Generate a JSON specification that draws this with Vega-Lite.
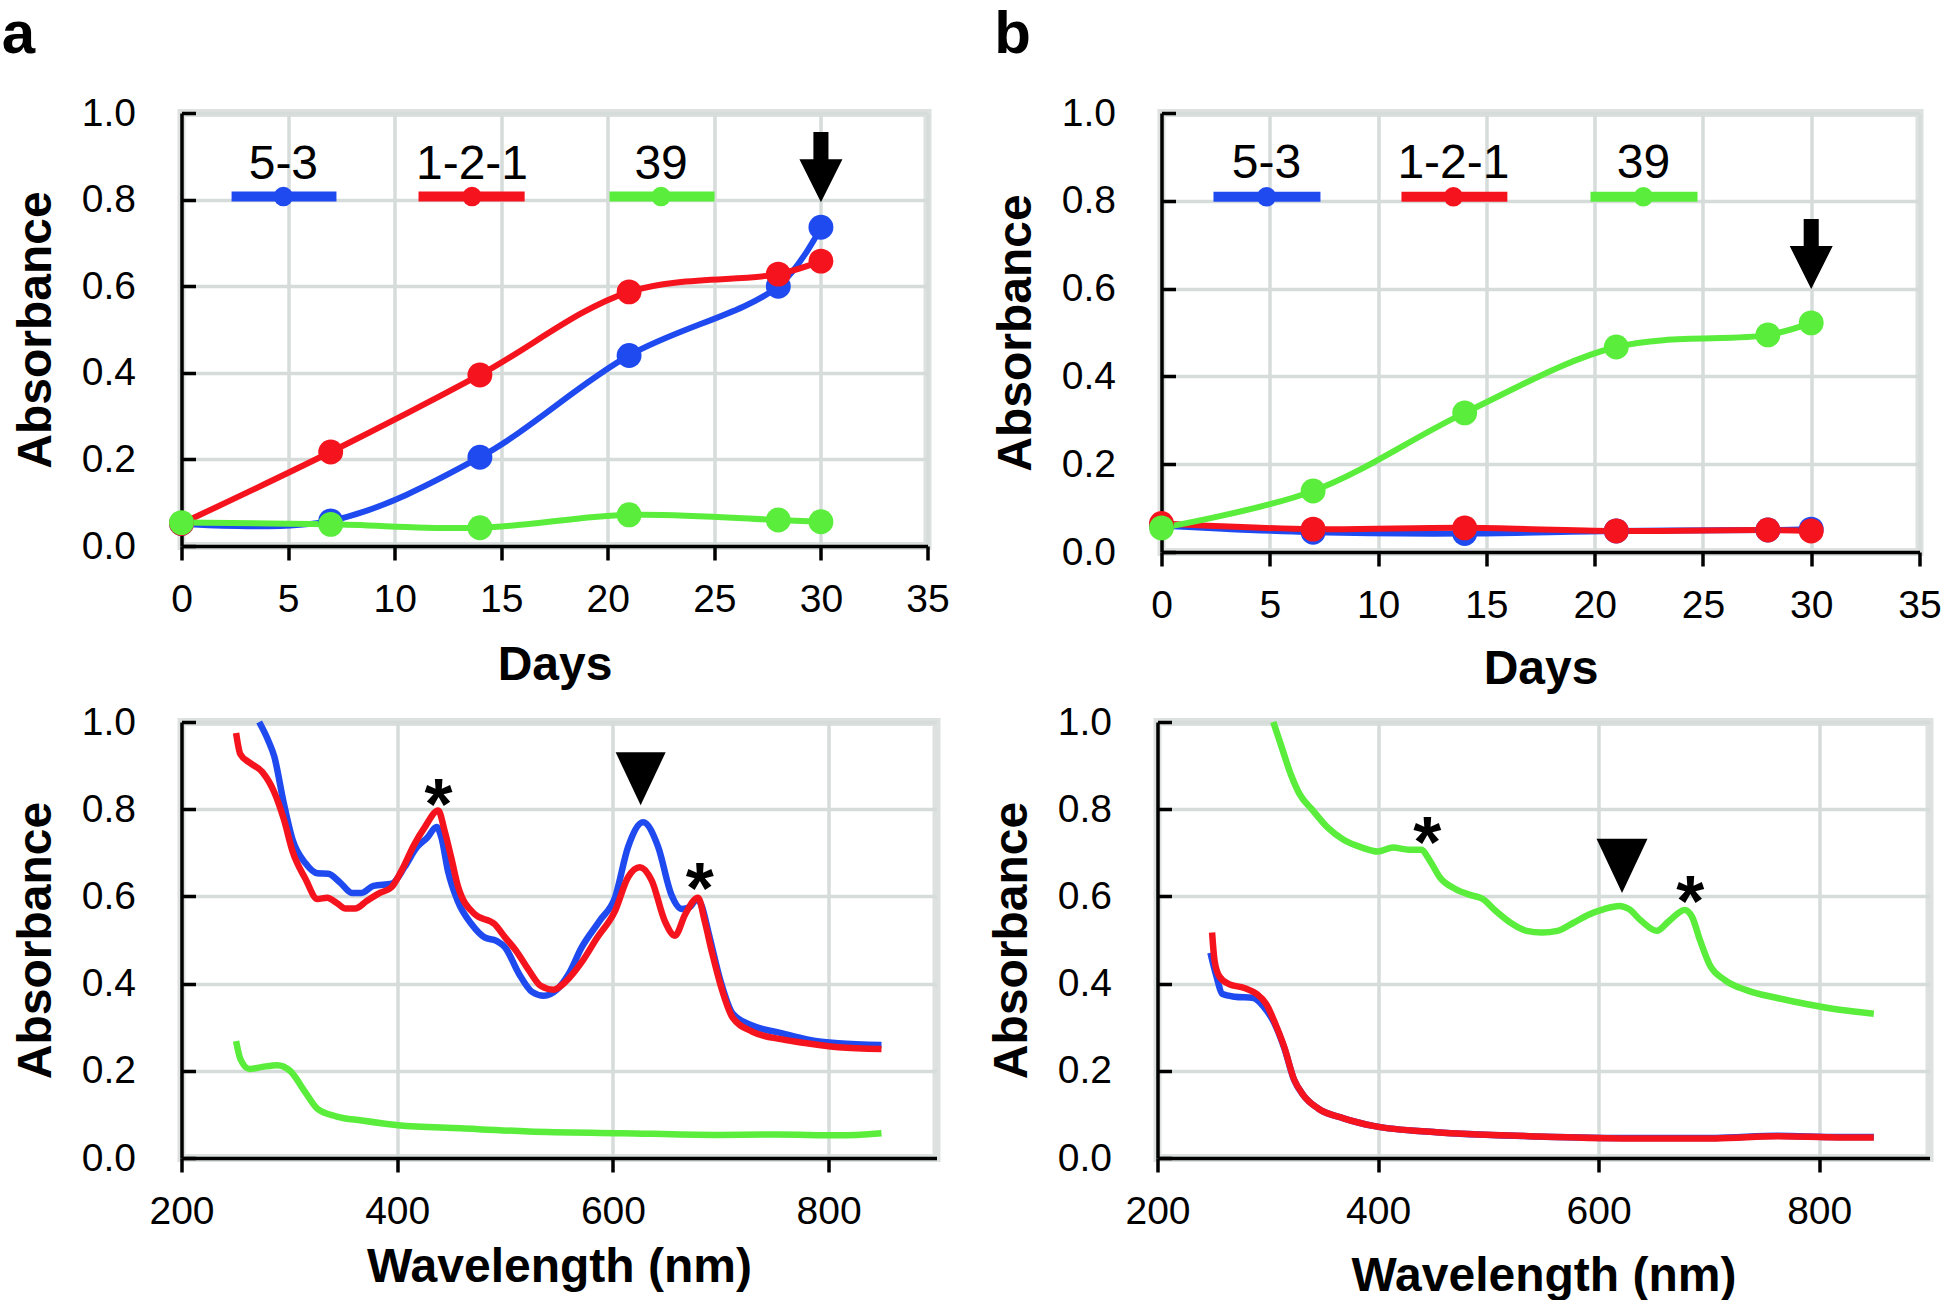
{
  "$schema": "https://vega.github.io/schema/vega-lite/v6.json",
  "background": "white",
  "padding": {"left": -2.5, "top": 0, "right": 0, "bottom": 0},
  "spacing": 2,
  "config": {
    "font": "Liberation Sans",
    "view": {"stroke": "#dde2e0", "strokeWidth": 8},
    "axis": {
      "labelFont": "Liberation Sans", "labelFontSize": 39, "labelColor": "black",
      "titleFont": "Liberation Sans", "titleFontSize": 48, "titleFontWeight": "bold", "titleColor": "black",
      "domainColor": "black", "domainWidth": 3.5, "tickColor": "black", "tickWidth": 3.5,
      "gridColor": "#d6dcda", "gridWidth": 3.5, "gridOpacity": 1, "labelFlush": false, "labelOverlap": false
    },
    "axisX": {"tickSize": 14, "labelPadding": 20, "titlePadding": 12},
    "axisY": {"tickSize": -14, "labelPadding": 60, "titlePadding": 21},
    "title": {"font": "Liberation Sans", "fontSize": 60, "fontWeight": "bold", "anchor": "start", "frame": "bounds", "color": "black", "offset": 28.5}
  },
  "datasets": {
    "growthA": [
      {"strain": "5-3", "day": 0, "abs": 0.052}, {"strain": "5-3", "day": 7, "abs": 0.058}, {"strain": "5-3", "day": 14, "abs": 0.205},
      {"strain": "5-3", "day": 21, "abs": 0.44}, {"strain": "5-3", "day": 28, "abs": 0.60}, {"strain": "5-3", "day": 30, "abs": 0.736},
      {"strain": "1-2-1", "day": 0, "abs": 0.052}, {"strain": "1-2-1", "day": 7, "abs": 0.217}, {"strain": "1-2-1", "day": 14, "abs": 0.395},
      {"strain": "1-2-1", "day": 21, "abs": 0.587}, {"strain": "1-2-1", "day": 28, "abs": 0.628}, {"strain": "1-2-1", "day": 30, "abs": 0.658},
      {"strain": "39", "day": 0, "abs": 0.054}, {"strain": "39", "day": 7, "abs": 0.05}, {"strain": "39", "day": 14, "abs": 0.042},
      {"strain": "39", "day": 21, "abs": 0.072}, {"strain": "39", "day": 28, "abs": 0.06}, {"strain": "39", "day": 30, "abs": 0.056}
    ],
    "growthB": [
      {"strain": "5-3", "day": 0, "abs": 0.06}, {"strain": "5-3", "day": 7, "abs": 0.045}, {"strain": "5-3", "day": 14, "abs": 0.042},
      {"strain": "5-3", "day": 21, "abs": 0.048}, {"strain": "5-3", "day": 28, "abs": 0.05}, {"strain": "5-3", "day": 30, "abs": 0.052},
      {"strain": "1-2-1", "day": 0, "abs": 0.065}, {"strain": "1-2-1", "day": 7, "abs": 0.052}, {"strain": "1-2-1", "day": 14, "abs": 0.055},
      {"strain": "1-2-1", "day": 21, "abs": 0.048}, {"strain": "1-2-1", "day": 28, "abs": 0.05}, {"strain": "1-2-1", "day": 30, "abs": 0.048},
      {"strain": "39", "day": 0, "abs": 0.055}, {"strain": "39", "day": 7, "abs": 0.139}, {"strain": "39", "day": 14, "abs": 0.317},
      {"strain": "39", "day": 21, "abs": 0.467}, {"strain": "39", "day": 28, "abs": 0.4945}, {"strain": "39", "day": 30, "abs": 0.522}
    ],
    "legendA": [
      {"strain": "5-3", "day": 2.35, "day2": 7.27, "dm": 4.78, "abs": 0.807, "ty": 0.848},
      {"strain": "1-2-1", "day": 11.12, "day2": 16.1, "dm": 13.63, "abs": 0.807, "ty": 0.848},
      {"strain": "39", "day": 20.08, "day2": 25.01, "dm": 22.5, "abs": 0.807, "ty": 0.848}
    ],
    "legendB": [
      {"strain": "5-3", "day": 2.4, "day2": 7.34, "dm": 4.85, "abs": 0.809, "ty": 0.852},
      {"strain": "1-2-1", "day": 11.08, "day2": 15.97, "dm": 13.48, "abs": 0.809, "ty": 0.852},
      {"strain": "39", "day": 19.81, "day2": 24.75, "dm": 22.25, "abs": 0.809, "ty": 0.852}
    ],
    "arrowA": [{"day": 30, "abs": 0.794}],
    "arrowB": [{"day": 30, "abs": 0.599}],
    "specC": [
      {"strain": "5-3", "nm": 272, "abs": 1.0}, {"strain": "5-3", "nm": 280, "abs": 0.96}, {"strain": "5-3", "nm": 286, "abs": 0.921},
      {"strain": "5-3", "nm": 295, "abs": 0.812}, {"strain": "5-3", "nm": 303, "abs": 0.73}, {"strain": "5-3", "nm": 315, "abs": 0.676},
      {"strain": "5-3", "nm": 326, "abs": 0.653}, {"strain": "5-3", "nm": 336, "abs": 0.652}, {"strain": "5-3", "nm": 347, "abs": 0.632},
      {"strain": "5-3", "nm": 358, "abs": 0.608}, {"strain": "5-3", "nm": 367, "abs": 0.608}, {"strain": "5-3", "nm": 378, "abs": 0.624},
      {"strain": "5-3", "nm": 395, "abs": 0.629}, {"strain": "5-3", "nm": 407, "abs": 0.668}, {"strain": "5-3", "nm": 418, "abs": 0.712},
      {"strain": "5-3", "nm": 428, "abs": 0.735}, {"strain": "5-3", "nm": 436.5, "abs": 0.759}, {"strain": "5-3", "nm": 441, "abs": 0.735},
      {"strain": "5-3", "nm": 447, "abs": 0.659}, {"strain": "5-3", "nm": 456, "abs": 0.59}, {"strain": "5-3", "nm": 469, "abs": 0.536},
      {"strain": "5-3", "nm": 481, "abs": 0.506}, {"strain": "5-3", "nm": 492, "abs": 0.498}, {"strain": "5-3", "nm": 500, "abs": 0.483},
      {"strain": "5-3", "nm": 513, "abs": 0.422}, {"strain": "5-3", "nm": 525, "abs": 0.381}, {"strain": "5-3", "nm": 536, "abs": 0.372},
      {"strain": "5-3", "nm": 548, "abs": 0.386}, {"strain": "5-3", "nm": 559, "abs": 0.422}, {"strain": "5-3", "nm": 571, "abs": 0.483},
      {"strain": "5-3", "nm": 588, "abs": 0.545}, {"strain": "5-3", "nm": 602, "abs": 0.598}, {"strain": "5-3", "nm": 614, "abs": 0.713},
      {"strain": "5-3", "nm": 628, "abs": 0.77}, {"strain": "5-3", "nm": 642, "abs": 0.713}, {"strain": "5-3", "nm": 654, "abs": 0.605},
      {"strain": "5-3", "nm": 664, "abs": 0.571}, {"strain": "5-3", "nm": 671, "abs": 0.575}, {"strain": "5-3", "nm": 678, "abs": 0.594},
      {"strain": "5-3", "nm": 682, "abs": 0.58}, {"strain": "5-3", "nm": 689, "abs": 0.513}, {"strain": "5-3", "nm": 700, "abs": 0.404},
      {"strain": "5-3", "nm": 711, "abs": 0.331}, {"strain": "5-3", "nm": 729, "abs": 0.304}, {"strain": "5-3", "nm": 757, "abs": 0.286},
      {"strain": "5-3", "nm": 780, "abs": 0.272}, {"strain": "5-3", "nm": 809, "abs": 0.263}, {"strain": "5-3", "nm": 849, "abs": 0.259},
      {"strain": "1-2-1", "nm": 250.6, "abs": 0.975}, {"strain": "1-2-1", "nm": 254.6, "abs": 0.926}, {"strain": "1-2-1", "nm": 263, "abs": 0.907},
      {"strain": "1-2-1", "nm": 275, "abs": 0.885}, {"strain": "1-2-1", "nm": 286, "abs": 0.839}, {"strain": "1-2-1", "nm": 295, "abs": 0.776},
      {"strain": "1-2-1", "nm": 303, "abs": 0.703}, {"strain": "1-2-1", "nm": 315, "abs": 0.64}, {"strain": "1-2-1", "nm": 326, "abs": 0.594},
      {"strain": "1-2-1", "nm": 335, "abs": 0.597}, {"strain": "1-2-1", "nm": 344, "abs": 0.585}, {"strain": "1-2-1", "nm": 352, "abs": 0.572},
      {"strain": "1-2-1", "nm": 361, "abs": 0.572}, {"strain": "1-2-1", "nm": 372, "abs": 0.59}, {"strain": "1-2-1", "nm": 384, "abs": 0.608},
      {"strain": "1-2-1", "nm": 394.7, "abs": 0.621}, {"strain": "1-2-1", "nm": 404, "abs": 0.659}, {"strain": "1-2-1", "nm": 416, "abs": 0.72},
      {"strain": "1-2-1", "nm": 425.6, "abs": 0.759}, {"strain": "1-2-1", "nm": 438, "abs": 0.797}, {"strain": "1-2-1", "nm": 444, "abs": 0.75},
      {"strain": "1-2-1", "nm": 450, "abs": 0.69}, {"strain": "1-2-1", "nm": 456.6, "abs": 0.621}, {"strain": "1-2-1", "nm": 472, "abs": 0.559},
      {"strain": "1-2-1", "nm": 490.5, "abs": 0.536}, {"strain": "1-2-1", "nm": 500, "abs": 0.506}, {"strain": "1-2-1", "nm": 510, "abs": 0.476},
      {"strain": "1-2-1", "nm": 522, "abs": 0.431}, {"strain": "1-2-1", "nm": 533, "abs": 0.395}, {"strain": "1-2-1", "nm": 545, "abs": 0.386},
      {"strain": "1-2-1", "nm": 556, "abs": 0.404}, {"strain": "1-2-1", "nm": 571, "abs": 0.449}, {"strain": "1-2-1", "nm": 585, "abs": 0.504},
      {"strain": "1-2-1", "nm": 602, "abs": 0.567}, {"strain": "1-2-1", "nm": 614, "abs": 0.644}, {"strain": "1-2-1", "nm": 625, "abs": 0.667},
      {"strain": "1-2-1", "nm": 636, "abs": 0.636}, {"strain": "1-2-1", "nm": 648, "abs": 0.544}, {"strain": "1-2-1", "nm": 657.5, "abs": 0.51},
      {"strain": "1-2-1", "nm": 667, "abs": 0.559}, {"strain": "1-2-1", "nm": 679, "abs": 0.597}, {"strain": "1-2-1", "nm": 685, "abs": 0.544},
      {"strain": "1-2-1", "nm": 692, "abs": 0.47}, {"strain": "1-2-1", "nm": 700, "abs": 0.395}, {"strain": "1-2-1", "nm": 711, "abs": 0.322},
      {"strain": "1-2-1", "nm": 729, "abs": 0.29}, {"strain": "1-2-1", "nm": 757, "abs": 0.272}, {"strain": "1-2-1", "nm": 780, "abs": 0.263},
      {"strain": "1-2-1", "nm": 809, "abs": 0.254}, {"strain": "1-2-1", "nm": 849, "abs": 0.25},
      {"strain": "39", "nm": 250.6, "abs": 0.268}, {"strain": "39", "nm": 254.6, "abs": 0.227}, {"strain": "39", "nm": 263, "abs": 0.204},
      {"strain": "39", "nm": 275, "abs": 0.209}, {"strain": "39", "nm": 289, "abs": 0.213}, {"strain": "39", "nm": 300.6, "abs": 0.2},
      {"strain": "39", "nm": 315, "abs": 0.15}, {"strain": "39", "nm": 326, "abs": 0.113}, {"strain": "39", "nm": 344, "abs": 0.095},
      {"strain": "39", "nm": 367, "abs": 0.086}, {"strain": "39", "nm": 401, "abs": 0.075}, {"strain": "39", "nm": 459, "abs": 0.068},
      {"strain": "39", "nm": 522, "abs": 0.061}, {"strain": "39", "nm": 608, "abs": 0.057}, {"strain": "39", "nm": 694, "abs": 0.053},
      {"strain": "39", "nm": 752, "abs": 0.054}, {"strain": "39", "nm": 809, "abs": 0.052}, {"strain": "39", "nm": 849, "abs": 0.057}
    ],
    "specD": [
      {"strain": "5-3", "nm": 248, "abs": 0.471}, {"strain": "5-3", "nm": 253.4, "abs": 0.417}, {"strain": "5-3", "nm": 259, "abs": 0.376},
      {"strain": "5-3", "nm": 270, "abs": 0.37}, {"strain": "5-3", "nm": 287, "abs": 0.367}, {"strain": "5-3", "nm": 295.6, "abs": 0.349},
      {"strain": "5-3", "nm": 306.8, "abs": 0.305}, {"strain": "5-3", "nm": 315, "abs": 0.252}, {"strain": "5-3", "nm": 323.7, "abs": 0.18},
      {"strain": "5-3", "nm": 332, "abs": 0.145}, {"strain": "5-3", "nm": 346, "abs": 0.113}, {"strain": "5-3", "nm": 368.7, "abs": 0.091},
      {"strain": "5-3", "nm": 396.8, "abs": 0.073}, {"strain": "5-3", "nm": 453, "abs": 0.059}, {"strain": "5-3", "nm": 537, "abs": 0.05},
      {"strain": "5-3", "nm": 622, "abs": 0.046}, {"strain": "5-3", "nm": 706, "abs": 0.046}, {"strain": "5-3", "nm": 762, "abs": 0.051},
      {"strain": "5-3", "nm": 818, "abs": 0.048}, {"strain": "5-3", "nm": 849.5, "abs": 0.048},
      {"strain": "1-2-1", "nm": 249.5, "abs": 0.517}, {"strain": "1-2-1", "nm": 251.7, "abs": 0.453}, {"strain": "1-2-1", "nm": 256, "abs": 0.417},
      {"strain": "1-2-1", "nm": 264.7, "abs": 0.399}, {"strain": "1-2-1", "nm": 278.7, "abs": 0.39}, {"strain": "1-2-1", "nm": 290, "abs": 0.376},
      {"strain": "1-2-1", "nm": 298.4, "abs": 0.354}, {"strain": "1-2-1", "nm": 306.8, "abs": 0.308}, {"strain": "1-2-1", "nm": 315, "abs": 0.254},
      {"strain": "1-2-1", "nm": 323.7, "abs": 0.181}, {"strain": "1-2-1", "nm": 332, "abs": 0.145}, {"strain": "1-2-1", "nm": 346, "abs": 0.113},
      {"strain": "1-2-1", "nm": 368.7, "abs": 0.091}, {"strain": "1-2-1", "nm": 396.8, "abs": 0.073}, {"strain": "1-2-1", "nm": 453, "abs": 0.059},
      {"strain": "1-2-1", "nm": 537.4, "abs": 0.05}, {"strain": "1-2-1", "nm": 621.7, "abs": 0.045}, {"strain": "1-2-1", "nm": 706, "abs": 0.045},
      {"strain": "1-2-1", "nm": 762, "abs": 0.05}, {"strain": "1-2-1", "nm": 818.5, "abs": 0.047}, {"strain": "1-2-1", "nm": 849.5, "abs": 0.047},
      {"strain": "39", "nm": 305, "abs": 1.0}, {"strain": "39", "nm": 312.5, "abs": 0.943}, {"strain": "39", "nm": 321, "abs": 0.879},
      {"strain": "39", "nm": 329, "abs": 0.834}, {"strain": "39", "nm": 340.6, "abs": 0.798}, {"strain": "39", "nm": 354.6, "abs": 0.757},
      {"strain": "39", "nm": 368.7, "abs": 0.73}, {"strain": "39", "nm": 385.6, "abs": 0.712}, {"strain": "39", "nm": 399.6, "abs": 0.703},
      {"strain": "39", "nm": 413.7, "abs": 0.712}, {"strain": "39", "nm": 427.7, "abs": 0.707}, {"strain": "39", "nm": 439, "abs": 0.707},
      {"strain": "39", "nm": 447.4, "abs": 0.68}, {"strain": "39", "nm": 455.9, "abs": 0.644}, {"strain": "39", "nm": 470, "abs": 0.617},
      {"strain": "39", "nm": 484, "abs": 0.603}, {"strain": "39", "nm": 495, "abs": 0.594}, {"strain": "39", "nm": 506.5, "abs": 0.567},
      {"strain": "39", "nm": 520.5, "abs": 0.539}, {"strain": "39", "nm": 534.6, "abs": 0.521}, {"strain": "39", "nm": 548.6, "abs": 0.517},
      {"strain": "39", "nm": 562.7, "abs": 0.521}, {"strain": "39", "nm": 576.8, "abs": 0.539}, {"strain": "39", "nm": 590.8, "abs": 0.558},
      {"strain": "39", "nm": 604.9, "abs": 0.571}, {"strain": "39", "nm": 619, "abs": 0.578}, {"strain": "39", "nm": 627.4, "abs": 0.571},
      {"strain": "39", "nm": 638.6, "abs": 0.544}, {"strain": "39", "nm": 652.7, "abs": 0.521}, {"strain": "39", "nm": 664, "abs": 0.544},
      {"strain": "39", "nm": 678, "abs": 0.569}, {"strain": "39", "nm": 684.7, "abs": 0.553}, {"strain": "39", "nm": 692, "abs": 0.499},
      {"strain": "39", "nm": 700.5, "abs": 0.444}, {"strain": "39", "nm": 714.5, "abs": 0.408}, {"strain": "39", "nm": 734, "abs": 0.385},
      {"strain": "39", "nm": 762, "abs": 0.367}, {"strain": "39", "nm": 790.4, "abs": 0.352}, {"strain": "39", "nm": 818.5, "abs": 0.34},
      {"strain": "39", "nm": 849.5, "abs": 0.331}
    ],
    "triC": [{"nm": 625.7, "abs": 0.809}],
    "starC": [{"nm": 438.3, "abs": 0.754, "label": "*"}, {"nm": 680.4, "abs": 0.561, "label": "*"}],
    "triD": [{"nm": 621.2, "abs": 0.608}],
    "starD": [{"nm": 444.7, "abs": 0.668, "label": "*"}, {"nm": 683.1, "abs": 0.532, "label": "*"}]
  },
  "vconcat": [
    {
      "spacing": 34,
      "hconcat": [
        {
          "width": 746, "height": 433,
          "title": {"text": "a", "dx": -10.5},
          "layer": [
            {
              "data": {"name": "growthA"},
              "mark": {"type": "line", "interpolate": "catmull-rom", "strokeWidth": 6},
              "encoding": {
                "x": {"field": "day", "type": "quantitative", "title": "Days", "scale": {"domain": [0, 35], "nice": false}, "axis": {"values": [0, 5, 10, 15, 20, 25, 30, 35], "titlePadding": 22}},
                "y": {"field": "abs", "type": "quantitative", "title": "Absorbance", "scale": {"domain": [0, 1], "nice": false}, "axis": {"values": [0, 0.2, 0.4, 0.6, 0.8, 1.0], "format": ".1f"}},
                "color": {"field": "strain", "type": "nominal", "scale": {"domain": ["5-3", "1-2-1", "39"], "range": ["#1f4af0", "#f5141e", "#5aed3c"]}, "legend": null}
              }
            },
            {
              "data": {"name": "growthA"},
              "mark": {"type": "point", "filled": true, "size": 620, "opacity": 1},
              "encoding": {
                "x": {"field": "day", "type": "quantitative", "title": "Days"},
                "y": {"field": "abs", "type": "quantitative", "title": "Absorbance"},
                "color": {"field": "strain", "type": "nominal", "legend": null}
              }
            },
            {
              "data": {"name": "legendA"},
              "mark": {"type": "rule", "strokeWidth": 10},
              "encoding": {
                "x": {"field": "day", "type": "quantitative", "title": "Days"},
                "x2": {"field": "day2"},
                "y": {"field": "abs", "type": "quantitative", "title": "Absorbance"},
                "color": {"field": "strain", "type": "nominal", "legend": null}
              }
            },
            {
              "data": {"name": "legendA"},
              "mark": {"type": "point", "filled": true, "size": 380, "opacity": 1},
              "encoding": {
                "x": {"field": "dm", "type": "quantitative", "title": "Days"},
                "y": {"field": "abs", "type": "quantitative", "title": "Absorbance"},
                "color": {"field": "strain", "type": "nominal", "legend": null}
              }
            },
            {
              "data": {"name": "legendA"},
              "mark": {"type": "text", "fontSize": 48, "font": "Liberation Sans", "align": "center", "baseline": "alphabetic", "color": "black"},
              "encoding": {
                "x": {"field": "dm", "type": "quantitative", "title": "Days"},
                "y": {"field": "ty", "type": "quantitative", "title": "Absorbance"},
                "text": {"field": "strain"}
              }
            },
            {
              "data": {"name": "arrowA"},
              "mark": {"type": "point", "shape": "M0,0L-1,-2L-0.35,-2L-0.35,-3.26L0.35,-3.26L0.35,-2L1,-2Z", "size": 1849, "filled": true, "color": "black", "opacity": 1, "strokeWidth": 0},
              "encoding": {
                "x": {"field": "day", "type": "quantitative", "title": "Days"},
                "y": {"field": "abs", "type": "quantitative", "title": "Absorbance"}
              }
            }
          ]
        },
        {
          "width": 758, "height": 439,
          "title": {"text": "b", "dx": 2},
          "layer": [
            {
              "data": {"name": "growthB"},
              "mark": {"type": "line", "interpolate": "catmull-rom", "strokeWidth": 6},
              "encoding": {
                "x": {"field": "day", "type": "quantitative", "title": "Days", "scale": {"domain": [0, 35], "nice": false}, "axis": {"values": [0, 5, 10, 15, 20, 25, 30, 35], "titlePadding": 20}},
                "y": {"field": "abs", "type": "quantitative", "title": "Absorbance", "scale": {"domain": [0, 1], "nice": false}, "axis": {"values": [0, 0.2, 0.4, 0.6, 0.8, 1.0], "format": ".1f"}},
                "color": {"field": "strain", "type": "nominal", "scale": {"domain": ["5-3", "1-2-1", "39"], "range": ["#1f4af0", "#f5141e", "#5aed3c"]}, "legend": null}
              }
            },
            {
              "data": {"name": "growthB"},
              "mark": {"type": "point", "filled": true, "size": 620, "opacity": 1},
              "encoding": {
                "x": {"field": "day", "type": "quantitative", "title": "Days"},
                "y": {"field": "abs", "type": "quantitative", "title": "Absorbance"},
                "color": {"field": "strain", "type": "nominal", "legend": null}
              }
            },
            {
              "data": {"name": "legendB"},
              "mark": {"type": "rule", "strokeWidth": 10},
              "encoding": {
                "x": {"field": "day", "type": "quantitative", "title": "Days"},
                "x2": {"field": "day2"},
                "y": {"field": "abs", "type": "quantitative", "title": "Absorbance"},
                "color": {"field": "strain", "type": "nominal", "legend": null}
              }
            },
            {
              "data": {"name": "legendB"},
              "mark": {"type": "point", "filled": true, "size": 380, "opacity": 1},
              "encoding": {
                "x": {"field": "dm", "type": "quantitative", "title": "Days"},
                "y": {"field": "abs", "type": "quantitative", "title": "Absorbance"},
                "color": {"field": "strain", "type": "nominal", "legend": null}
              }
            },
            {
              "data": {"name": "legendB"},
              "mark": {"type": "text", "fontSize": 48, "font": "Liberation Sans", "align": "center", "baseline": "alphabetic", "color": "black"},
              "encoding": {
                "x": {"field": "dm", "type": "quantitative", "title": "Days"},
                "y": {"field": "ty", "type": "quantitative", "title": "Absorbance"},
                "text": {"field": "strain"}
              }
            },
            {
              "data": {"name": "arrowB"},
              "mark": {"type": "point", "shape": "M0,0L-1,-2L-0.35,-2L-0.35,-3.26L0.35,-3.26L0.35,-2L1,-2Z", "size": 1849, "filled": true, "color": "black", "opacity": 1, "strokeWidth": 0},
              "encoding": {
                "x": {"field": "day", "type": "quantitative", "title": "Days"},
                "y": {"field": "abs", "type": "quantitative", "title": "Absorbance"}
              }
            }
          ]
        }
      ]
    },
    {
      "spacing": 43,
      "hconcat": [
        {
          "width": 755, "height": 436,
          "layer": [
            {
              "data": {"name": "specC"},
              "mark": {"type": "line", "interpolate": "monotone", "strokeWidth": 6.5},
              "encoding": {
                "x": {"field": "nm", "type": "quantitative", "title": "Wavelength (nm)", "scale": {"domain": [200, 900], "nice": false}, "axis": {"values": [200, 400, 600, 800], "titlePadding": 12}},
                "y": {"field": "abs", "type": "quantitative", "title": "Absorbance", "scale": {"domain": [0, 1], "nice": false}, "axis": {"values": [0, 0.2, 0.4, 0.6, 0.8, 1.0], "format": ".1f"}},
                "color": {"field": "strain", "type": "nominal", "scale": {"domain": ["5-3", "1-2-1", "39"], "range": ["#1f4af0", "#f5141e", "#5aed3c"]}, "legend": null}
              }
            },
            {
              "data": {"name": "triC"},
              "mark": {"type": "point", "shape": "M0,0L-1,-2.12L1,-2.12Z", "size": 2500, "filled": true, "color": "black", "opacity": 1, "strokeWidth": 0},
              "encoding": {
                "x": {"field": "nm", "type": "quantitative", "title": "Wavelength (nm)"},
                "y": {"field": "abs", "type": "quantitative", "title": "Absorbance"}
              }
            },
            {
              "data": {"name": "starC"},
              "mark": {"type": "text", "fontSize": 72, "fontWeight": "bold", "font": "Liberation Sans", "align": "center", "baseline": "alphabetic", "color": "black"},
              "encoding": {
                "x": {"field": "nm", "type": "quantitative", "title": "Wavelength (nm)"},
                "y": {"field": "abs", "type": "quantitative", "title": "Absorbance"},
                "text": {"field": "label"}
              }
            }
          ]
        },
        {
          "width": 772, "height": 436,
          "layer": [
            {
              "data": {"name": "specD"},
              "mark": {"type": "line", "interpolate": "monotone", "strokeWidth": 6.5},
              "encoding": {
                "x": {"field": "nm", "type": "quantitative", "title": "Wavelength (nm)", "scale": {"domain": [200, 900], "nice": false}, "axis": {"values": [200, 400, 600, 800], "titlePadding": 21}},
                "y": {"field": "abs", "type": "quantitative", "title": "Absorbance", "scale": {"domain": [0, 1], "nice": false}, "axis": {"values": [0, 0.2, 0.4, 0.6, 0.8, 1.0], "format": ".1f"}},
                "color": {"field": "strain", "type": "nominal", "scale": {"domain": ["5-3", "1-2-1", "39"], "range": ["#1f4af0", "#f5141e", "#5aed3c"]}, "legend": null}
              }
            },
            {
              "data": {"name": "triD"},
              "mark": {"type": "point", "shape": "M0,0L-1,-2.12L1,-2.12Z", "size": 2601, "filled": true, "color": "black", "opacity": 1, "strokeWidth": 0},
              "encoding": {
                "x": {"field": "nm", "type": "quantitative", "title": "Wavelength (nm)"},
                "y": {"field": "abs", "type": "quantitative", "title": "Absorbance"}
              }
            },
            {
              "data": {"name": "starD"},
              "mark": {"type": "text", "fontSize": 72, "fontWeight": "bold", "font": "Liberation Sans", "align": "center", "baseline": "alphabetic", "color": "black"},
              "encoding": {
                "x": {"field": "nm", "type": "quantitative", "title": "Wavelength (nm)"},
                "y": {"field": "abs", "type": "quantitative", "title": "Absorbance"},
                "text": {"field": "label"}
              }
            }
          ]
        }
      ]
    }
  ]
}
